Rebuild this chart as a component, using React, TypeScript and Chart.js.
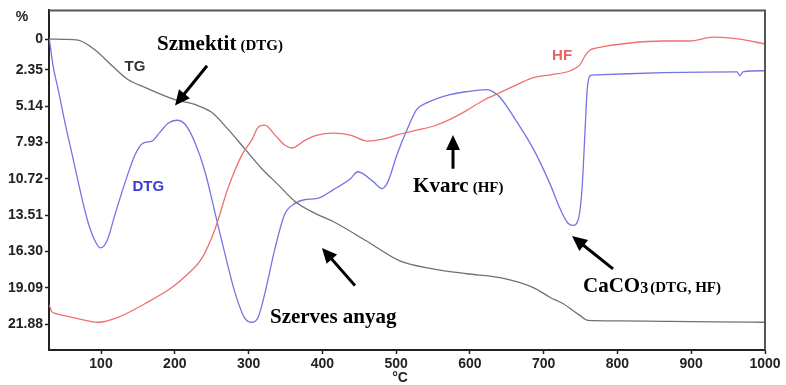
import React, { useEffect, useRef } from "react";
import { Chart, registerables } from "chart.js";

Chart.register(...registerables);

const xTicks = [100, 200, 300, 400, 500, 600, 700, 800, 900, 1000];
const yTicks = [0, 2.35, 5.14, 7.93, 10.72, 13.51, 16.3, 19.09, 21.88];
const yTickLabels = ["0", "2.35", "5.14", "7.93", "10.72", "13.51", "16.30", "19.09", "21.88"];

const tgTemp = [30, 50, 69, 92, 115, 137, 160, 200, 227, 250, 272, 295, 318, 340, 363, 390, 414, 460, 505, 550, 596, 641, 686, 709, 726, 749, 760, 800, 862, 930, 1000];
const tgValue = [0, 0.02, 0.08, 0.84, 2.05, 3.12, 3.72, 4.64, 5.02, 5.62, 6.91, 8.43, 9.95, 11.17, 12.46, 13.37, 13.98, 15.5, 17.02, 17.63, 18.01, 18.31, 19.07, 19.83, 20.29, 21.2, 21.58, 21.62, 21.66, 21.7, 21.73];

const dtgTemp = [30, 35, 42, 51, 61, 69, 82, 92, 99, 108, 119, 133, 146, 157, 169, 180, 191, 203, 214, 227, 241, 255, 268, 282, 295, 305, 313, 322, 336, 349, 363, 377, 393, 415, 438, 448, 455, 469, 481, 489, 501, 515, 528, 543, 573, 596, 623, 631, 641, 664, 686, 709, 722, 733, 740, 747, 752, 756, 759, 763, 770, 862, 962, 966, 970, 1000];
const dtgValue = [0, 2.05, 3.88, 6.38, 8.89, 10.94, 13.98, 15.5, 16.03, 15.5, 13.45, 10.94, 8.89, 7.98, 7.83, 7.14, 6.46, 6.23, 6.54, 7.9, 10.18, 13.45, 16.49, 19.53, 21.43, 21.73, 21.35, 19.53, 16.03, 13.45, 12.61, 12.31, 12.23, 11.55, 10.71, 10.18, 10.33, 10.94, 11.47, 10.94, 8.89, 6.92, 5.4, 4.86, 4.26, 4.03, 3.88, 4.03, 4.48, 6.38, 8.43, 11.17, 12.99, 14.13, 14.29, 13.83, 11.47, 7.14, 3.88, 2.81, 2.74, 2.58, 2.51, 2.81, 2.51, 2.43];

const hfTemp = [30, 33, 38, 61, 96, 123, 160, 196, 218, 237, 255, 272, 291, 305, 313, 322, 336, 349, 359, 377, 393, 415, 438, 461, 482, 505, 528, 550, 573, 596, 618, 641, 664, 686, 709, 736, 749, 756, 763, 772, 817, 862, 898, 930, 966, 1000];
const hfValue = [20.4, 20.9, 21.05, 21.35, 21.73, 21.35, 20.29, 19.07, 18.01, 16.79, 14.51, 11.47, 8.89, 7.68, 6.76, 6.61, 7.37, 8.13, 8.36, 7.75, 7.37, 7.22, 7.37, 7.83, 7.68, 7.3, 6.99, 6.69, 6.16, 5.47, 4.71, 4.1, 3.5, 2.96, 2.74, 2.43, 1.98, 1.29, 0.84, 0.68, 0.3, 0.15, 0.15, -0.15, 0, 0.38];

const SANS = '"Liberation Sans", Arial, sans-serif';
const SERIF = '"Liberation Serif", "Times New Roman", serif';

const toPoints = (xs: number[], ys: number[]) => xs.map((x, i) => ({ x, y: ys[i] }));

const annotPlugin = {
  id: "annot",
  afterDraw(chart: any) {
    const { ctx, chartArea, scales } = chart;
    const X = (v: number) => scales.x.getPixelForValue(v);
    const Y = (v: number) => scales.y.getPixelForValue(v);
    ctx.save();
    // frame top and right
    ctx.strokeStyle = "#555";
    ctx.lineWidth = 2;
    ctx.beginPath();
    ctx.moveTo(chartArea.left, chartArea.top);
    ctx.lineTo(chartArea.right, chartArea.top);
    ctx.lineTo(chartArea.right, chartArea.bottom);
    ctx.stroke();

    // axis titles
    ctx.fillStyle = "#222";
    ctx.font = `bold 14px ${SANS}`;
    ctx.textAlign = "center";
    ctx.textBaseline = "middle";
    ctx.fillText("%", chartArea.left - 27, chartArea.top + 7);
    ctx.fillText("°C", (chartArea.left + chartArea.right) / 2 - 7, chartArea.bottom + 28);

    // series labels
    ctx.font = `bold 15px ${SANS}`;
    ctx.fillStyle = "#333";
    ctx.fillText("TG", X(146), Y(2.13));
    ctx.fillStyle = "#3b3bd2";
    ctx.fillText("DTG", X(164), Y(11.32));
    ctx.fillStyle = "#e86464";
    ctx.fillText("HF", X(725), Y(1.29));

    // annotation texts
    ctx.fillStyle = "#000";
    ctx.textAlign = "left";
    ctx.textBaseline = "alphabetic";
    const two = (big: string, small: string, x: number, y: number) => {
      ctx.font = `bold 21px ${SERIF}`;
      const w = ctx.measureText(big).width;
      ctx.fillText(big, x, y);
      ctx.font = `bold 15px ${SERIF}`;
      ctx.fillText(small, x + w + 4, y);
    };
    two("Szmektit", "(DTG)", X(176), Y(0.84));
    ctx.font = `bold 21px ${SERIF}`;
    ctx.fillText("Szerves anyag", X(329), Y(21.81));
    two("Kvarc", "(HF)", X(523), Y(11.7));
    ctx.font = `bold 21px ${SERIF}`;
    const cx = X(753.3);
    const cy = Y(19.38);
    ctx.fillText("CaCO", cx, cy);
    const cw = ctx.measureText("CaCO").width;
    ctx.font = `bold 16px ${SERIF}`;
    ctx.fillText("3", cx + cw, cy + 1);
    const c3 = ctx.measureText("3").width;
    ctx.font = `bold 15px ${SERIF}`;
    ctx.fillText("(DTG, HF)", cx + cw + c3 + 2, cy);

    // arrows
    const arrow = (x1: number, y1: number, x2: number, y2: number) => {
      const ang = Math.atan2(y2 - y1, x2 - x1);
      const hl = 15;
      const hw = 7;
      const bx = x2 - Math.cos(ang) * hl;
      const by = y2 - Math.sin(ang) * hl;
      ctx.strokeStyle = "#000";
      ctx.lineWidth = 3;
      ctx.beginPath();
      ctx.moveTo(x1, y1);
      ctx.lineTo(bx + Math.cos(ang) * 2, by + Math.sin(ang) * 2);
      ctx.stroke();
      ctx.fillStyle = "#000";
      ctx.beginPath();
      ctx.moveTo(x2, y2);
      ctx.lineTo(bx + Math.sin(ang) * hw, by - Math.cos(ang) * hw);
      ctx.lineTo(bx - Math.sin(ang) * hw, by + Math.cos(ang) * hw);
      ctx.closePath();
      ctx.fill();
    };
    arrow(X(243.7), Y(2.05), X(200.3), Y(5.09));
    arrow(X(444.3), Y(18.92), X(399.5), Y(16.03));
    arrow(X(577.1), Y(9.95), X(577.1), Y(7.37));
    arrow(X(794), Y(17.63), X(738.4), Y(15.12));
    ctx.restore();
  },
};

export default function App() {
  const ref = useRef<HTMLCanvasElement | null>(null);
  useEffect(() => {
    if (!ref.current) return;
    const lineDs = (label: string, data: any[], color: string) => ({
      label,
      data,
      borderColor: color,
      backgroundColor: color,
      borderWidth: 1.3,
      pointRadius: 0,
      cubicInterpolationMode: "monotone" as const,
      fill: false,
    });
    const chart = new Chart(ref.current, {
      type: "line",
      data: {
        datasets: [
          lineDs("HF", toPoints(hfTemp, hfValue), "#ee7070"),
          lineDs("TG", toPoints(tgTemp, tgValue), "#707070"),
          lineDs("DTG", toPoints(dtgTemp, dtgValue), "#7474e2"),
        ],
      },
      options: {
        animation: false,
        responsive: false,
        maintainAspectRatio: false,
        devicePixelRatio: 1,
        layout: { padding: { top: 7, right: 21, left: 0, bottom: 0 } },
        plugins: { legend: { display: false }, tooltip: { enabled: false } },
        scales: {
          x: {
            type: "linear",
            min: 29.5,
            max: 1000,
            afterBuildTicks: (s: any) => {
              s.ticks = xTicks.map((v) => ({ value: v }));
            },
            afterFit: (s: any) => {
              s.height = 35;
            },
            grid: { display: true, drawOnChartArea: false, drawTicks: true, tickLength: 4, color: "#222", tickWidth: 1.5 },
            border: { display: true, color: "#222", width: 2 },
            ticks: {
              autoSkip: false,
              maxRotation: 0,
              padding: 2,
              color: "#222",
              font: { family: SANS, size: 14, weight: "bold" },
              callback: (v: any) => String(v),
            },
          },
          y: {
            type: "linear",
            reverse: true,
            min: -2.2,
            max: 23.86,
            afterBuildTicks: (s: any) => {
              s.ticks = yTicks.map((v) => ({ value: v }));
            },
            afterFit: (s: any) => {
              s.width = 49;
            },
            grid: { display: true, drawOnChartArea: false, drawTicks: true, tickLength: 4, color: "#222", tickWidth: 1.5 },
            border: { display: true, color: "#222", width: 2 },
            ticks: {
              autoSkip: false,
              padding: 2,
              color: "#222",
              font: { family: SANS, size: 14, weight: "bold" },
              callback: (_v: any, i: number) => yTickLabels[i],
            },
          },
        },
      },
      plugins: [annotPlugin],
    });
    return () => chart.destroy();
  }, []);
  return (
    <div style={{ position: "fixed", left: 0, top: 0, width: 786, height: 385, background: "#fff" }}>
      <canvas ref={ref} width={786} height={385} style={{ display: "block", width: 786, height: 385 }} />
    </div>
  );
}
